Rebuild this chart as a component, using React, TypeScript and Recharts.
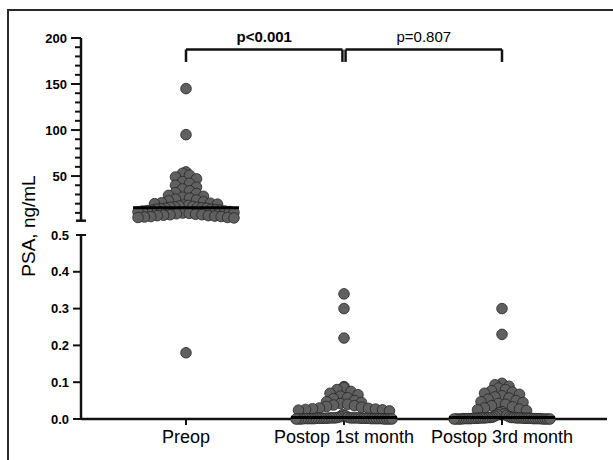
import { ReferenceLine, Scatter, ScatterChart, XAxis, YAxis } from "recharts";

const FONT = '"Liberation Sans", Arial, sans-serif';
const INK = "#111";

const CATEGORIES = ["Preop", "Postop 1st month", "Postop 3rd month"];
const P_VALUES = ["p<0.001", "p=0.807"];

// PSA values (ng/mL), one array per group
const PREOP = [
  145, 95, 54.5, 53, 51, 49, 47, 44, 42, 40, 38, 36, 34, 32, 31, 29, 28, 27, 26, 25, 24, 23, 22, 21,
  20.5, 20, 19.5, 18.5, 18, 17.5, 17, 16.5, 16, 16, 15.5, 15, 15, 14.5, 14, 14, 13.5, 13, 13, 12.5, 12,
  12, 11.5, 11, 10.5, 9.8, 9.5, 9, 8.5, 8, 8, 7.5, 7, 7, 6.5, 6, 6, 5.5, 5, 5, 4.5, 0.18,
];
const POSTOP_1M = [
  0.34, 0.3, 0.22, 0.088, 0.085, 0.08, 0.075, 0.07, 0.066, 0.062, 0.058, 0.055, 0.05, 0.047, 0.045,
  0.042, 0.04, 0.038, 0.036, 0.034, 0.032, 0.03, 0.029, 0.028, 0.027, 0.026, 0.025, 0.024, 0.022,
  0.012, 0.009, 0.006, 0.005, 0.004, 0.003, 0.003, 0.003, 0.003, 0.003, 0.003, 0.003, 0.002, 0.002,
  0.002, 0.002, 0.002, 0.002, 0.002, 0.002, 0.002, 0.001, 0.001, 0.001, 0.001, 0.001, 0.001, 0.001,
  0.001, 0.001, 0.001, 0, 0, 0, 0, 0, 0, 0,
];
const POSTOP_3M = [
  0.3, 0.23, 0.097, 0.093, 0.089, 0.084, 0.08, 0.077, 0.073, 0.07, 0.067, 0.063, 0.06, 0.057, 0.054,
  0.05, 0.047, 0.045, 0.042, 0.04, 0.036, 0.033, 0.03, 0.027, 0.025, 0.023, 0.02, 0.017, 0.014, 0.012,
  0.01, 0.008, 0.006, 0.005, 0.004, 0.004, 0.004, 0.004, 0.003, 0.003, 0.003, 0.003, 0.003, 0.003,
  0.002, 0.002, 0.002, 0.002, 0.002, 0.002, 0.002, 0.001, 0.001, 0.001, 0.001, 0.001, 0.001, 0.001,
  0.001, 0, 0, 0, 0, 0, 0, 0, 0,
];
const GROUPS = [PREOP, POSTOP_1M, POSTOP_3M];
const MEDIANS = [15.6, 0.004, 0.004];

const TOP_TICKS = [10, 20, 30, 40, 50, 60, 70, 80, 90, 100, 110, 120, 130, 140, 150, 160, 170, 180, 190, 200];
const BOTTOM_TICKS = [0, 0.1, 0.2, 0.3, 0.4, 0.5];

// broken axis: upper panel 1.5–200, lower panel 0–0.5
const TOP_MIN = 1.5;
const TOP_MAX = 200;
const BREAK = 0.5;

const WIDTH = 613;
const AXIS_W = 81;
const RIGHT = 6;
const TOP_H = 240;
const TOP_MARGIN = { top: 38, right: RIGHT, bottom: 19.3, left: 0 };
const BOT_H = 460;
const BOT_MARGIN = { top: 235, right: RIGHT, bottom: 11, left: 0 };
const X_AXIS_H = 30;

const PLOT_W = WIDTH - AXIS_W - RIGHT;
const X_DOMAIN: [number, number] = [2 - PLOT_W / 158 / 2, 2 + PLOT_W / 158 / 2];
const PX_PER_X = PLOT_W / (X_DOMAIN[1] - X_DOMAIN[0]);
const TOP_PX = (TOP_H - TOP_MARGIN.top - TOP_MARGIN.bottom) / (TOP_MAX - TOP_MIN);
const BOT_PX = (BOT_H - BOT_MARGIN.top - BOT_MARGIN.bottom - X_AXIS_H) / BREAK;

const DOT_R = 5.3;
const STEP = 7;
const MAX_HALF = 48;
const BIN = 8;
const MEDIAN_HALF = 53 / PX_PER_X;

type Pt = { x: number; y: number };

// scatter-dot layout: points in the same horizontal band are spread side by side
function swarm(values: number[], cat: number, base: number, pxPerUnit: number): Pt[] {
  const rows = new Map<number, number[]>();
  values.forEach((v) => {
    const b = Math.floor(((v - base) * pxPerUnit) / BIN);
    if (!rows.has(b)) rows.set(b, []);
    rows.get(b)!.push(v);
  });
  const out: Pt[] = [];
  rows.forEach((row) => {
    row.sort((a, b) => b - a);
    const n = row.length;
    const step = n > 1 ? Math.min(STEP, (2 * MAX_HALF) / (n - 1)) : 0;
    const slots = Array.from({ length: n }, (_, j) => (j - (n - 1) / 2) * step).sort(
      (a, b) => Math.abs(a) - Math.abs(b) || a - b,
    );
    row.forEach((v, i) => out.push({ x: cat + slots[i] / PX_PER_X, y: v }));
  });
  return out;
}

const topData = GROUPS.flatMap((g, i) => swarm(g.filter((v) => v > BREAK), i + 1, TOP_MIN, TOP_PX));
const bottomData = GROUPS.flatMap((g, i) => swarm(g.filter((v) => v <= BREAK), i + 1, 0, BOT_PX));

const dot = (p: any) => (
  <circle cx={p.cx} cy={p.cy} r={DOT_R} fill="#606060" stroke="#262626" strokeWidth={0.8} />
);

function TopTick({ x, y, payload }: any) {
  const v = payload.value;
  const major = v % 50 === 0;
  return (
    <g>
      <line x1={x - (major ? 10 : 6)} x2={x} y1={y} y2={y} stroke={INK} strokeWidth={2} />
      {major && (
        <text x={x - 14} y={y} dy="0.36em" textAnchor="end" fontSize={13} fontWeight={700} fontFamily={FONT} fill="#000">
          {v}
        </text>
      )}
    </g>
  );
}

function BottomTick({ x, y, payload }: any) {
  const v = payload.value;
  const cap = v === BREAK;
  return (
    <g>
      <line x1={x - (cap ? 5 : 8)} x2={x + (cap ? 5 : 0)} y1={y} y2={y} stroke={INK} strokeWidth={2} />
      <text x={x - 12} y={y} dy="0.36em" textAnchor="end" fontSize={13} fontWeight={700} fontFamily={FONT} fill="#000">
        {v.toFixed(1)}
      </text>
    </g>
  );
}

const BRACKET_TOP = 187.5;
const BRACKET_FOOT = 174;
const brackets = [
  { from: 1, to: 1.99, label: P_VALUES[0], bold: true },
  { from: 2.01, to: 3, label: P_VALUES[1], bold: false },
];

export default function App() {
  const capY = TOP_MARGIN.top + (TOP_MAX - TOP_MIN) * TOP_PX;
  return (
    <div style={{ position: "absolute", left: 0, top: 0, width: WIDTH, height: 460, background: "#fff", overflow: "hidden" }}>
      <div
        style={{
          position: "absolute",
          left: 7,
          top: 9,
          width: WIDTH,
          height: 460,
          borderTop: "2px solid #2a2a2a",
          borderLeft: "2px solid #2a2a2a",
        }}
      />
      <div
        style={{
          position: "absolute",
          left: 29,
          top: 226,
          transform: "translate(-50%, -50%) rotate(-90deg)",
          whiteSpace: "nowrap",
          fontFamily: FONT,
          fontSize: 19,
          color: "#000",
        }}
      >
        PSA, ng/mL
      </div>

      <div style={{ position: "absolute", left: 0, top: 0 }}>
        <ScatterChart width={WIDTH} height={BOT_H} margin={BOT_MARGIN}>
          <XAxis
            type="number"
            dataKey="x"
            domain={X_DOMAIN}
            ticks={[1, 2, 3]}
            interval={0}
            height={X_AXIS_H}
            tickFormatter={(v: number) => CATEGORIES[v - 1]}
            tick={{ fontSize: 18, fill: "#000", fontFamily: FONT }}
            tickSize={6}
            tickMargin={5}
            tickLine={{ stroke: INK, strokeWidth: 2 }}
            axisLine={{ stroke: INK, strokeWidth: 2.5 }}
          />
          <YAxis
            type="number"
            dataKey="y"
            domain={[0, BREAK]}
            ticks={BOTTOM_TICKS}
            interval={0}
            width={AXIS_W}
            tickSize={0}
            tickMargin={0}
            tickLine={false}
            tick={<BottomTick />}
            axisLine={{ stroke: INK, strokeWidth: 2.5 }}
          />
          <Scatter data={bottomData} shape={dot} isAnimationActive={false} />
          {[2, 3].map((c) => (
            <ReferenceLine
              key={c}
              segment={[
                { x: c - MEDIAN_HALF, y: MEDIANS[c - 1] },
                { x: c + MEDIAN_HALF, y: MEDIANS[c - 1] },
              ]}
              stroke="#000"
              strokeWidth={3}
              ifOverflow="visible"
              zIndex={900}
            />
          ))}
        </ScatterChart>
      </div>

      <div style={{ position: "absolute", left: 0, top: 0 }}>
        <ScatterChart width={WIDTH} height={TOP_H} margin={TOP_MARGIN}>
          <XAxis type="number" dataKey="x" domain={X_DOMAIN} hide />
          <YAxis
            type="number"
            dataKey="y"
            domain={[TOP_MIN, TOP_MAX]}
            ticks={TOP_TICKS}
            interval={0}
            width={AXIS_W}
            tickSize={0}
            tickMargin={0}
            tickLine={false}
            tick={<TopTick />}
            axisLine={{ stroke: INK, strokeWidth: 2.5 }}
          />
          <Scatter data={topData} shape={dot} isAnimationActive={false} />
          <ReferenceLine
            segment={[
              { x: 1 - MEDIAN_HALF, y: MEDIANS[0] },
              { x: 1 + MEDIAN_HALF, y: MEDIANS[0] },
            ]}
            stroke="#000"
            strokeWidth={3}
            ifOverflow="visible"
            zIndex={900}
          />
          {brackets.map((b) => [
            <ReferenceLine
              key={b.label + "l"}
              segment={[
                { x: b.from, y: BRACKET_FOOT },
                { x: b.from, y: BRACKET_TOP },
              ]}
              stroke={INK}
              strokeWidth={2.5}
              ifOverflow="visible"
            />,
            <ReferenceLine
              key={b.label + "t"}
              segment={[
                { x: b.from, y: BRACKET_TOP },
                { x: b.to, y: BRACKET_TOP },
              ]}
              stroke={INK}
              strokeWidth={2.5}
              ifOverflow="visible"
              label={{
                value: b.label,
                position: "top",
                offset: 8,
                fontSize: 15,
                fontWeight: b.bold ? 700 : 400,
                fontFamily: FONT,
                fill: "#000",
              }}
            />,
            <ReferenceLine
              key={b.label + "r"}
              segment={[
                { x: b.to, y: BRACKET_FOOT },
                { x: b.to, y: BRACKET_TOP },
              ]}
              stroke={INK}
              strokeWidth={2.5}
              ifOverflow="visible"
            />,
          ])}
        </ScatterChart>
      </div>
      {/* cap where the upper y-axis segment ends */}
      <svg style={{ position: "absolute", left: 0, top: 0, pointerEvents: "none" }} width={WIDTH} height={460}>
        <line x1={AXIS_W - 5} x2={AXIS_W + 5} y1={capY} y2={capY} stroke={INK} strokeWidth={2.5} />
      </svg>
    </div>
  );
}
